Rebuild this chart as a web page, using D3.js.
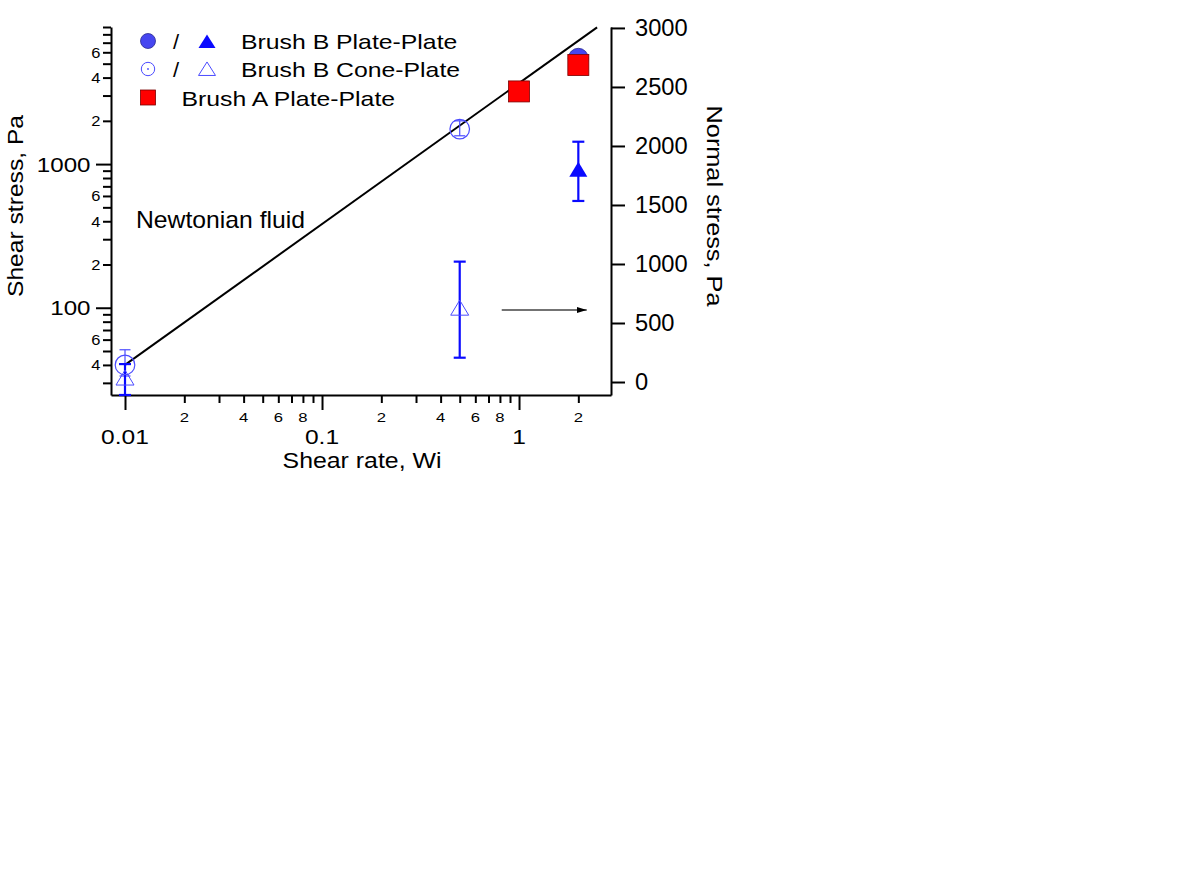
<!DOCTYPE html>
<html>
<head>
<meta charset="utf-8">
<script src="https://cdn.jsdelivr.net/npm/d3@7"></script>
<style>
  body { margin: 0; background: #fff; }
  svg { display: block; font-family: "Liberation Sans", Arial, Helvetica, sans-serif; }
</style>
</head>
<body>
<svg id="chart" width="1182" height="886"></svg>
<script>
// ---- data ----
// shear stress (left axis, log)
const ppRate = [2];                 // Brush B plate-plate, filled circle
const ppShear = [5450];
const cpRate = [0.01, 0.5];         // Brush B cone-plate, open circle
const cpShear = [40, 1752];
const cpShearLo = [33.5, 1574];
const cpShearHi = [51, 2000];
const aRate = [1, 2];               // Brush A plate-plate, red square
const aShear = [3205, 4890];
// normal stress (right axis, linear)
const ppNormRate = [2];             // filled triangle
const ppNormal = [1785];
const ppNormalErr = [251];
const cpNormRate = [0.01, 0.5];     // open triangle
const cpNormal = [21, 613];
const cpNormalErr = [131, 407];
// Newtonian reference line
const newtRate = [0.01, 2.49];
const newtShear = [40, 8950];
// arrow pointing at the right axis
const arrowRate = [0.817, 2.207];
const arrowNormal = 610;

// ticks
const xMajor = [0.01, 0.1, 1];
const xMinor = [0.02, 0.03, 0.04, 0.05, 0.06, 0.07, 0.08, 0.09,
                0.2, 0.3, 0.4, 0.5, 0.6, 0.7, 0.8, 0.9, 2];
const yMajor = [100, 1000];
const yMinor = [30, 40, 50, 60, 70, 80, 90,
                200, 300, 400, 500, 600, 700, 800, 900,
                2000, 3000, 4000, 5000, 6000, 7000, 8000, 9000];
const y2Ticks = [0, 500, 1000, 1500, 2000, 2500, 3000];

const svg = d3.select("#chart");
const pLeft = 111, pRight = 611, pTop = 27, pBottom = 395;

const x = d3.scaleLog().domain([0.00849, 2.93]).range([pLeft, pRight]);
const y = d3.scaleLog().domain([24.7, 9000]).range([pBottom, pTop]);
const y2 = d3.scaleLinear().domain([-110, 3008]).range([pBottom, pTop]);

const lead = d => Math.round(d / Math.pow(10, Math.floor(Math.log10(d) + 1e-9)));

// text with a horizontal stretch in its own direction
function label(g, px, py, str, size, sx, anchor, rot, dy) {
    return g.append("text")
        .attr("transform", `translate(${px},${py}) rotate(${rot || 0}) scale(${sx},1)`)
        .attr("text-anchor", anchor || "start")
        .attr("dy", dy || 0)
        .style("font-size", size + "px")
        .attr("fill", "#000")
        .text(str);
}

function styleAxis(g) {
    g.selectAll("path, line").attr("stroke", "#000").attr("stroke-width", 2);
    g.selectAll("text").remove();
}

// ---- axes ----
const gx = svg.append("g").attr("transform", `translate(0,${pBottom})`);
gx.call(d3.axisBottom(x).tickValues(xMajor).tickSize(15).tickSizeOuter(0).tickFormat(() => ""));
gx.append("g").call(d3.axisBottom(x).tickValues(xMinor).tickSize(8).tickSizeOuter(0).tickFormat(() => ""))
    .select(".domain").remove();
styleAxis(gx);

const gy = svg.append("g").attr("transform", `translate(${pLeft},0)`);
gy.call(d3.axisLeft(y).tickValues(yMajor).tickSize(15).tickSizeOuter(0).tickFormat(() => ""));
gy.append("g").call(d3.axisLeft(y).tickValues(yMinor).tickSize(8).tickSizeOuter(0).tickFormat(() => ""))
    .select(".domain").remove();
styleAxis(gy);

const gy2 = svg.append("g").attr("transform", `translate(${pRight},0)`);
gy2.call(d3.axisRight(y2).tickValues(y2Ticks).tickSize(14).tickSizeOuter(0).tickFormat(() => ""));
styleAxis(gy2);

// tick labels
const tl = svg.append("g");
xMajor.forEach(d => label(tl, x(d), 444, d3.format("")(d), 19.5, 1.26, "middle"));
xMinor.filter(d => [2, 4, 6, 8].includes(lead(d)))
    .forEach(d => label(tl, x(d), 421.5, String(lead(d)), 13, 1.28, "middle"));
yMajor.forEach(d => label(tl, 90.5, y(d), String(d), 21, 1.15, "end", 0, "0.36em"));
yMinor.filter(d => [2, 4, 6].includes(lead(d)))
    .forEach(d => label(tl, 100.5, y(d), String(lead(d)), 15, 1.1, "end", 0, "0.36em"));
y2Ticks.forEach(d => label(tl, 635, y2(d), String(d), 23, 1.03, "start", 0, "0.36em"));

// axis titles
label(svg, 362, 468, "Shear rate, Wi", 22, 1.13, "middle");
label(svg, 23, 206, "Shear stress, Pa", 22, 1.12, "middle", -90);
label(svg, 707, 206, "Normal stress, Pa", 22, 1.15, "middle", 90);
label(svg, 136, 228, "Newtonian fluid", 24, 1.03, "start");

// ---- plot content ----
const plot = svg.append("g");

plot.append("path")
    .datum(newtRate.map((r, i) => [r, newtShear[i]]))
    .attr("fill", "none").attr("stroke", "#000").attr("stroke-width", 2)
    .attr("d", d3.line().x(d => x(d[0])).y(d => y(d[1])));

svg.append("defs").append("marker")
    .attr("id", "head").attr("viewBox", "0 0 10 6").attr("refX", 10).attr("refY", 3)
    .attr("markerWidth", 10).attr("markerHeight", 6).attr("markerUnits", "userSpaceOnUse")
    .attr("orient", "auto")
    .append("path").attr("d", "M0,0L10,3L0,6Z").attr("fill", "#000");

plot.append("line")
    .attr("x1", x(arrowRate[0])).attr("x2", x(arrowRate[1]))
    .attr("y1", y2(arrowNormal)).attr("y2", y2(arrowNormal))
    .attr("stroke", "#444").attr("stroke-width", 1.5)
    .attr("marker-end", "url(#head)");

// error bars
function errBar(g, px, y1, y0, cap, color, w) {
    g.append("line").attr("x1", px).attr("x2", px).attr("y1", y1).attr("y2", y0)
        .attr("stroke", color).attr("stroke-width", w);
    [y1, y0].forEach(v => g.append("line")
        .attr("x1", px - cap / 2).attr("x2", px + cap / 2).attr("y1", v).attr("y2", v)
        .attr("stroke", color).attr("stroke-width", w));
}

cpRate.forEach((r, i) => errBar(plot, x(r), y(cpShearHi[i]), y(cpShearLo[i]), 11, "#4b4bff", 1.2));
cpNormRate.forEach((r, i) => errBar(plot, x(r), y2(cpNormal[i] + cpNormalErr[i]),
    y2(cpNormal[i] - cpNormalErr[i]), 12, "#0a0aff", 2.2));
ppNormRate.forEach((r, i) => errBar(plot, x(r), y2(ppNormal[i] + ppNormalErr[i]),
    y2(ppNormal[i] - ppNormalErr[i]), 12, "#0a0aff", 2.2));

const tri = (w, h) => `M0,${-h * 0.633}L${w / 2},${h * 0.367}L${-w / 2},${h * 0.367}Z`;

// open circles, cone-plate shear stress
plot.selectAll(".cp").data(cpRate).join("circle")
    .attr("cx", d => x(d)).attr("cy", (d, i) => y(cpShear[i])).attr("r", 9.8)
    .attr("fill", "none").attr("stroke", "#4b4bff").attr("stroke-width", 1.2);

// open triangles, cone-plate normal stress
plot.selectAll(".cpn").data(cpNormRate).join("path")
    .attr("transform", (d, i) => `translate(${x(d)},${y2(cpNormal[i])})`)
    .attr("d", tri(18, 15))
    .attr("fill", "none").attr("stroke", "#4b4bff").attr("stroke-width", 1);

// filled circle, plate-plate shear stress
plot.selectAll(".pp").data(ppRate).join("circle")
    .attr("cx", d => x(d)).attr("cy", (d, i) => y(ppShear[i])).attr("r", 10)
    .attr("fill", "#4646f0").attr("stroke", "#2a2a90").attr("stroke-width", 0.8);

// filled triangle, plate-plate normal stress
plot.selectAll(".ppn").data(ppNormRate).join("path")
    .attr("transform", (d, i) => `translate(${x(d)},${y2(ppNormal[i])})`)
    .attr("d", tri(18, 15))
    .attr("fill", "#0a0aff");

// red squares, Brush A
plot.selectAll(".a").data(aRate).join("rect")
    .attr("x", d => x(d) - 10.5).attr("y", (d, i) => y(aShear[i]) - 10.5)
    .attr("width", 21).attr("height", 21)
    .attr("fill", "#ff0000").attr("stroke", "#7a0000").attr("stroke-width", 0.8);

// ---- legend ----
const lg = svg.append("g");
lg.append("circle").attr("cx", 148).attr("cy", 41).attr("r", 7.5)
    .attr("fill", "#4646f0").attr("stroke", "#2a2a90").attr("stroke-width", 0.8);
lg.append("path").attr("transform", "translate(207,43)").attr("d", tri(17, 13.5)).attr("fill", "#0a0aff");
label(lg, 176, 49.3, "/", 20, 1.1, "middle");
label(lg, 241, 49.3, "Brush B Plate-Plate", 20, 1.24);

lg.append("circle").attr("cx", 148).attr("cy", 69).attr("r", 6.7)
    .attr("fill", "none").attr("stroke", "#4b4bff").attr("stroke-width", 1);
lg.append("circle").attr("cx", 148).attr("cy", 69).attr("r", 0.9).attr("fill", "#4b4bff");
lg.append("path").attr("transform", "translate(207,70.5)").attr("d", tri(17, 13.5))
    .attr("fill", "none").attr("stroke", "#4b4bff").attr("stroke-width", 1);
label(lg, 176, 77.3, "/", 20, 1.1, "middle");
label(lg, 241, 77.3, "Brush B Cone-Plate", 20, 1.24);

lg.append("rect").attr("x", 140.5).attr("y", 90).attr("width", 15).attr("height", 15)
    .attr("fill", "#ff0000").attr("stroke", "#7a0000").attr("stroke-width", 0.8);
label(lg, 181.5, 106, "Brush A Plate-Plate", 20, 1.24);
</script>
</body>
</html>
